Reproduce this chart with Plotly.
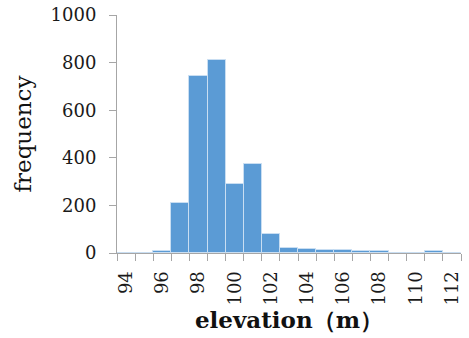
import plotly.graph_objects as go

elevation = [94, 95, 96, 97, 98, 99, 100, 101, 102, 103, 104, 105, 106, 107, 108, 109, 110, 111, 112]
frequency = [1, 1, 8, 210, 744, 813, 290, 374, 80, 20, 15, 11, 11, 7, 7, 2, 2, 7, 2]
x_tick_labels = [94, 96, 98, 100, 102, 104, 106, 108, 110, 112]
y_tick_labels = [0, 200, 400, 600, 800, 1000]

FONT = "DejaVu Serif"
AXIS = "#a6a6a6"

fig = go.Figure(go.Bar(
    x=elevation, y=frequency, width=1,
    marker=dict(color="#5b9bd5", line=dict(color="#c9def2", width=1)),
))

fig.update_layout(
    width=469, height=338,
    margin=dict(l=117, r=8, t=15, b=85),
    paper_bgcolor="white", plot_bgcolor="white",
    showlegend=False, bargap=0,
    font=dict(family=FONT, size=18, color="#1a1a1a"),
)

fig.update_xaxes(
    range=[93.5, 112.5], automargin=False,
    tickmode="array", tickvals=x_tick_labels, ticktext=[str(v) for v in x_tick_labels],
    ticks="", tickangle=-90, showgrid=False, zeroline=False,
    showline=True, linecolor=AXIS, linewidth=1,
    minor=dict(tickmode="array", tickvals=[v - 0.5 for v in elevation] + [elevation[-1] + 0.5],
               ticks="outside", ticklen=7, tickcolor=AXIS, tickwidth=1, showgrid=False),
    ticklabelstandoff=10, ticklabeloverflow="allow",
    title=dict(text="<b>elevation（m）</b>", font=dict(family=FONT, size=23, color="#111111"), standoff=4),
)

fig.update_yaxes(
    range=[0, 1000], automargin=False, tickmode="array", tickvals=y_tick_labels,
    ticks="outside", ticklen=7, tickcolor=AXIS, tickwidth=1,
    showgrid=False, zeroline=False, showline=True, linecolor=AXIS, linewidth=1,
    ticklabelstandoff=9, ticklabeloverflow="allow",
    title=dict(text="frequency", font=dict(family=FONT, size=23, color="#111111"), standoff=12),
)

fig.write_html("out.html", config={"displayModeBar": False},
               post_script="document.body.style.margin='0';")
